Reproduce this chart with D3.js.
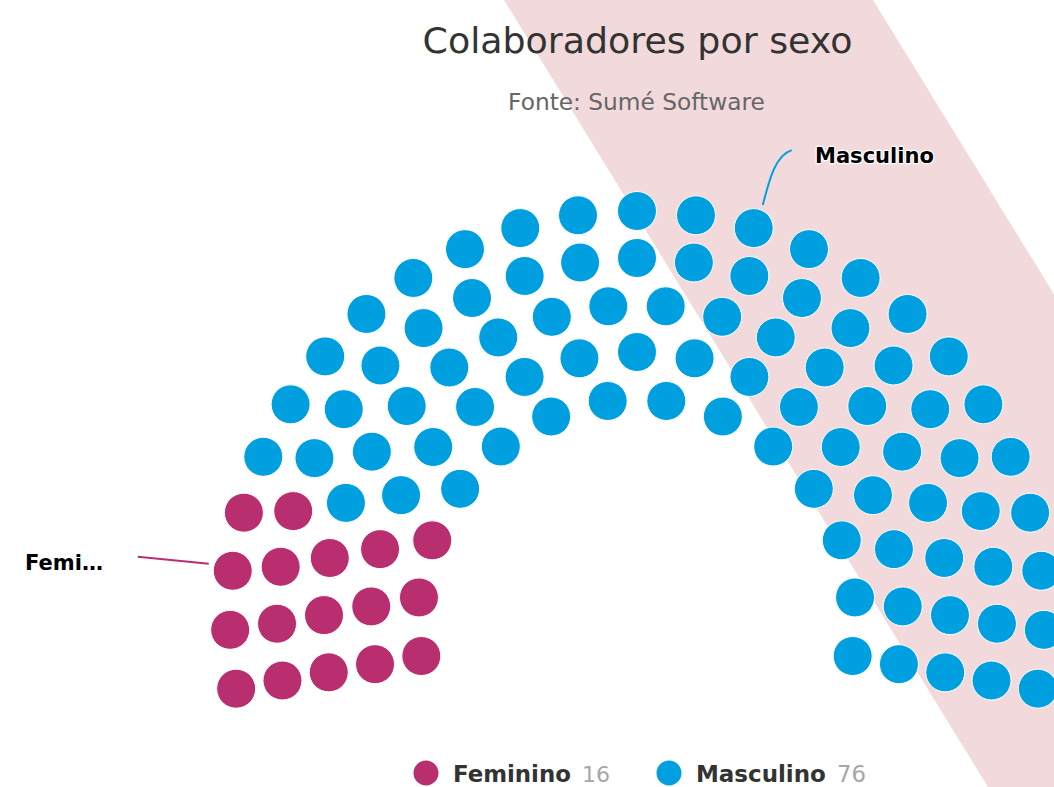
<!DOCTYPE html>
<html>
<head>
<meta charset="utf-8">
<script src="https://cdn.jsdelivr.net/npm/d3@7"></script>
<style>
  html, body { margin: 0; padding: 0; background: #fff; }
  svg { display: block; }
  text { font-family: "DejaVu Sans", "Liberation Sans", sans-serif; }
</style>
</head>
<body>
<svg id="chart" width="1054" height="787"></svg>
<script>
// ---- data ----
const title = "Colaboradores por sexo";
const subtitle = "Fonte: Sumé Software";
const categories = ["Feminino", "Masculino"];
const values = [16, 76];
const seriesColors = ["#b92e6f", "#009fdf"];
const ringSlots = [14, 17, 20, 23, 25];   // seats per arc, inner -> outer
const labelTexts = ["Femi…", "Masculino"];

// ---- layout ----
const W = 1054, H = 787;
const cx = 637, cy = 618;
const startAngle = -100, endAngle = 100;
const innerR = 219, outerR = 407;
const dotR = 19.5;

const svg = d3.select("#chart");

// background band
const slope = 0.615;
svg.append("polygon")
  .attr("points", [[504, 0], [873, 0], [873 + slope * H, H], [504 + slope * H, H]].map(p => p.join(",")).join(" "))
  .attr("fill", "#f2dadc");

// helper to fit a text to a width
function fit(sel, width) {
  const len = sel.node().getComputedTextLength();
  const fs = parseFloat(sel.attr("font-size"));
  sel.attr("font-size", fs * width / len);
  return sel;
}

// title & subtitle
fit(svg.append("text").attr("x", 637.5).attr("y", 53).attr("text-anchor", "middle")
  .attr("font-size", 36).attr("fill", "#333333").text(title), 430);
fit(svg.append("text").attr("x", 636.5).attr("y", 110).attr("text-anchor", "middle")
  .attr("font-size", 22).attr("fill", "#666666").text(subtitle), 257);

// scales
const rScale = d3.scaleLinear().domain([0, ringSlots.length - 1]).range([innerR, outerR]);
const aScale = d3.scaleLinear().domain([0, 1]).range([startAngle, endAngle].map(d => d * Math.PI / 180));

const slots = [];
ringSlots.forEach((n, ri) => {
  const R = rScale(ri);
  for (let i = 0; i < n; i++) {
    const a = aScale(n > 1 ? i / (n - 1) : 0.5);
    slots.push({ ring: ri, idx: i, angle: a, x: cx + R * Math.sin(a), y: cy - R * Math.cos(a) });
  }
});
slots.sort((a, b) => a.angle - b.angle || a.ring - b.ring);

// allocate seats proportionally to values
const total = d3.sum(values);
const counts = values.map(v => Math.round(v / total * slots.length));
counts[counts.length - 1] = slots.length - d3.sum(counts.slice(0, -1));
const colorScale = d3.scaleOrdinal().domain(categories).range(seriesColors);
let k = 0;
counts.forEach((c, si) => { for (let j = 0; j < c; j++) slots[k++].cat = categories[si]; });

svg.append("g").selectAll("circle").data(slots).join("circle")
  .attr("cx", d => d.x).attr("cy", d => d.y).attr("r", dotR)
  .attr("fill", d => colorScale(d.cat))
  .attr("stroke", "#ffffff").attr("stroke-width", 1);

// data labels with connectors
const outerN = ringSlots[ringSlots.length - 1];
function outerDot(i) {
  const a = aScale(i / (outerN - 1));
  return [cx + outerR * Math.sin(a), cy - outerR * Math.cos(a)];
}
const fd = outerDot(2);
svg.append("path")
  .attr("d", `M${fd[0] - 24},${fd[1] - 7} L${fd[0] - 95},${fd[1] - 14}`)
  .attr("stroke", seriesColors[0]).attr("stroke-width", 2).attr("fill", "none");
const md = outerDot(14);
svg.append("path")
  .attr("d", `M${md[0] + 9},${md[1] - 23} C${md[0] + 16},${md[1] - 50} ${md[0] + 22},${md[1] - 73} ${md[0] + 38},${md[1] - 78}`)
  .attr("stroke", seriesColors[1]).attr("stroke-width", 2).attr("fill", "none");

function label(x, y, txt, w) {
  const t = svg.append("text").attr("x", x).attr("y", y)
    .attr("font-size", 20).attr("font-weight", "bold").attr("fill", "#000")
    .attr("stroke", "#fff").attr("stroke-width", 2.5).attr("paint-order", "stroke")
    .attr("stroke-linejoin", "round").text(txt);
  fit(t, w);
}
label(25, 570, labelTexts[0], 78);
label(815, 163, labelTexts[1], 119);

// legend
const legend = svg.append("g");
const legendItems = [
  { cat: categories[0], val: values[0], cx: 426, tx: 453, tw: 118, vx: 582, vw: 28 },
  { cat: categories[1], val: values[1], cx: 669, tx: 696, tw: 130, vx: 837, vw: 29 }
];
legendItems.forEach(d => {
  legend.append("circle").attr("cx", d.cx).attr("cy", 773).attr("r", 12.5).attr("fill", colorScale(d.cat));
  fit(legend.append("text").attr("x", d.tx).attr("y", 782).attr("font-size", 21)
    .attr("font-weight", "bold").attr("fill", "#333333").text(d.cat), d.tw);
  fit(legend.append("text").attr("x", d.vx).attr("y", 782).attr("font-size", 21)
    .attr("fill", "#a6a6a6").text(d.val), d.vw);
});
</script>
</body>
</html>
